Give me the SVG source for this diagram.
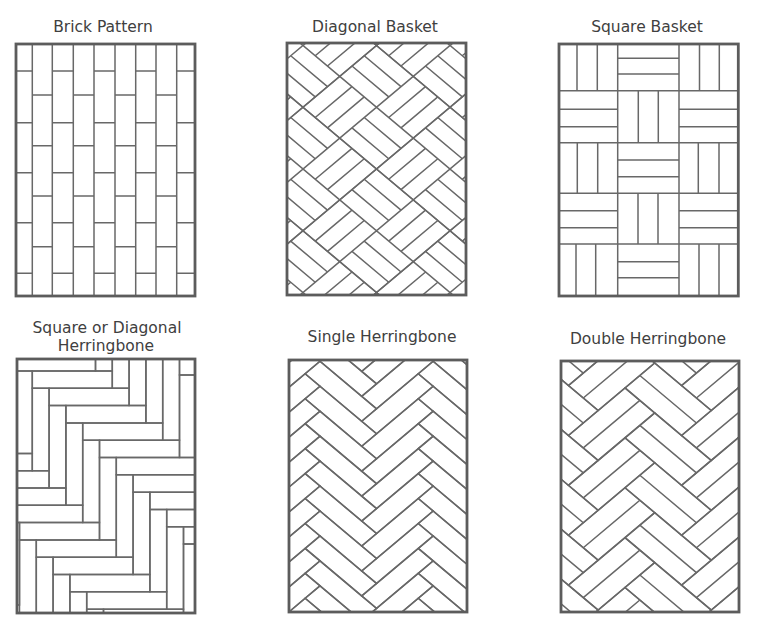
<svg xmlns="http://www.w3.org/2000/svg" xmlns:xlink="http://www.w3.org/1999/xlink" width="757" height="633" viewBox="0 0 757 633">
<style>
.t{fill:none;stroke:#686868;stroke-width:1.5;vector-effect:non-scaling-stroke}
.b{fill:none;stroke:#5c5c5c;stroke-width:2.8}
.ttl{font-family:"DejaVu Sans",Verdana,sans-serif;font-size:15.5px;fill:#404040;text-anchor:middle}
</style>
<defs>
<clipPath id="c2"><rect x="287" y="43" width="179" height="252"/></clipPath>
<clipPath id="c4"><rect x="17" y="359" width="178" height="254"/></clipPath>
<clipPath id="c5"><rect x="289" y="360" width="178" height="252"/></clipPath>
<clipPath id="c6"><rect x="561" y="361" width="178" height="251"/></clipPath>
<g id="bk">
<rect class="t" width="104" height="104"/>
<path class="t" d="M52 0V104M0 52H104M0 17.33H52M0 34.67H52M69.33 0V52M86.67 0V52M17.33 52V104M34.67 52V104M52 69.33H104M52 86.67H104"/>
</g>
<g id="bkrow">
<use xlink:href="#bk" x="-208"/><use xlink:href="#bk" x="-104"/><use xlink:href="#bk" x="0"/><use xlink:href="#bk" x="104"/>
</g>
<g id="hp">
<rect class="t" width="80" height="16.8"/>
<rect class="t" y="16.8" width="16.8" height="80"/>
</g>
<g id="hband">
<use xlink:href="#hp" x="-100.8" y="-100.8"/><use xlink:href="#hp" x="-84" y="-84"/><use xlink:href="#hp" x="-67.2" y="-67.2"/><use xlink:href="#hp" x="-50.4" y="-50.4"/><use xlink:href="#hp" x="-33.6" y="-33.6"/><use xlink:href="#hp" x="-16.8" y="-16.8"/><use xlink:href="#hp" x="0" y="0"/><use xlink:href="#hp" x="16.8" y="16.8"/><use xlink:href="#hp" x="33.6" y="33.6"/><use xlink:href="#hp" x="50.4" y="50.4"/><use xlink:href="#hp" x="67.2" y="67.2"/><use xlink:href="#hp" x="84" y="84"/><use xlink:href="#hp" x="100.8" y="100.8"/><use xlink:href="#hp" x="117.6" y="117.6"/><use xlink:href="#hp" x="134.4" y="134.4"/><use xlink:href="#hp" x="151.2" y="151.2"/><use xlink:href="#hp" x="168" y="168"/><use xlink:href="#hp" x="184.8" y="184.8"/><use xlink:href="#hp" x="201.6" y="201.6"/><use xlink:href="#hp" x="218.4" y="218.4"/><use xlink:href="#hp" x="235.2" y="235.2"/>
</g>
<g id="sp" transform="rotate(45)">
<rect class="t" width="80" height="21"/>
<rect class="t" y="21" width="21" height="80"/>
</g>
<g id="scol">
<use xlink:href="#sp" y="-89.09"/><use xlink:href="#sp" y="-59.4"/><use xlink:href="#sp" y="-29.7"/><use xlink:href="#sp" y="0"/><use xlink:href="#sp" y="29.7"/><use xlink:href="#sp" y="59.4"/><use xlink:href="#sp" y="89.09"/><use xlink:href="#sp" y="118.79"/><use xlink:href="#sp" y="148.49"/><use xlink:href="#sp" y="178.19"/><use xlink:href="#sp" y="207.89"/><use xlink:href="#sp" y="237.59"/><use xlink:href="#sp" y="267.29"/><use xlink:href="#sp" y="296.98"/>
</g>
<g id="dp" transform="rotate(45)">
<rect class="t" width="80" height="42"/>
<path class="t" d="M0 21H80M21 42V122"/>
<rect class="t" y="42" width="42" height="80"/>
</g>
<g id="dcol">
<use xlink:href="#dp" y="-118.79"/><use xlink:href="#dp" y="-59.4"/><use xlink:href="#dp" y="0"/><use xlink:href="#dp" y="59.4"/><use xlink:href="#dp" y="118.79"/><use xlink:href="#dp" y="178.19"/><use xlink:href="#dp" y="237.59"/><use xlink:href="#dp" y="296.98"/>
</g>
</defs>
<rect width="757" height="633" fill="#ffffff"/>

<g id="titles">
<text class="ttl" x="103" y="32">Brick Pattern</text>
<text class="ttl" x="375" y="32">Diagonal Basket</text>
<text class="ttl" x="647" y="32">Square Basket</text>
<text class="ttl" x="107" y="333">Square or Diagonal</text>
<text class="ttl" x="106" y="351">Herringbone</text>
<text class="ttl" x="382" y="342">Single Herringbone</text>
<text class="ttl" x="648" y="344">Double Herringbone</text>
</g>

<g id="brick-pattern">
<path class="t" d="M32.3 44V296M52.3 44V296M73.3 44V296M94 44V296M115 44V296M135.7 44V296M156 44V296M176.7 44V296"/>
<path class="t" d="M16 71H32.3M52.3 71H73.3M94 71H115M135.7 71H156M176.7 71H195M16 122.7H32.3M52.3 122.7H73.3M94 122.7H115M135.7 122.7H156M176.7 122.7H195M16 172.7H32.3M52.3 172.7H73.3M94 172.7H115M135.7 172.7H156M176.7 172.7H195M16 222.7H32.3M52.3 222.7H73.3M94 222.7H115M135.7 222.7H156M176.7 222.7H195M16 273.3H32.3M52.3 273.3H73.3M94 273.3H115M135.7 273.3H156M176.7 273.3H195"/>
<path class="t" d="M32.3 95H52.3M73.3 95H94M115 95H135.7M156 95H176.7M32.3 145.7H52.3M73.3 145.7H94M115 145.7H135.7M156 145.7H176.7M32.3 196H52.3M73.3 196H94M115 196H135.7M156 196H176.7M32.3 246.7H52.3M73.3 246.7H94M115 246.7H135.7M156 246.7H176.7"/>
<rect class="b" x="16" y="44" width="179" height="252"/>
</g>

<g id="diagonal-basket">
<g clip-path="url(#c2)">
<g transform="translate(376.5,169) scale(1,0.84) rotate(45)">
<use xlink:href="#bkrow" y="-208"/><use xlink:href="#bkrow" y="-104"/><use xlink:href="#bkrow" y="0"/><use xlink:href="#bkrow" y="104"/>
</g>
</g>
<rect class="b" x="287" y="43" width="179" height="252"/>
</g>

<g id="square-basket">
<path class="t" d="M617.7 44V296M679 44V296M559 90.7H738.3M559 142.7H738.3M559 193.3H738.3M559 244H738.3"/>
<path class="t" d="M577 44V90.7M597.3 44V90.7M699.5 44V90.7M719.3 44V90.7M638.3 90.7V142.7M658.3 90.7V142.7M577.3 142.7V193.3M597.7 142.7V193.3M698.3 142.7V193.3M719 142.7V193.3M638 193.3V244M658 193.3V244M576 244V296M595.7 244V296M699 244V296M719 244V296"/>
<path class="t" d="M617.7 58.3H679M617.7 74H679M559 109.3H617.7M559 126.7H617.7M679 109.3H738.3M679 126.7H738.3M617.7 160H679M617.7 176.7H679M559 210.7H617.7M559 227.7H617.7M679 210.7H738.3M679 227.7H738.3M617.7 261.7H679M617.7 277.7H679"/>
<rect class="b" x="559" y="44" width="179.3" height="252"/>
</g>

<g id="square-herringbone">
<g clip-path="url(#c4)">
<g transform="translate(32.3,371) scale(1,1.03)">
<use xlink:href="#hband" x="-80" y="80"/>
<use xlink:href="#hband"/>
<use xlink:href="#hband" x="80" y="-80"/>
</g>
</g>
<rect class="b" x="17" y="359" width="178" height="254"/>
</g>

<g id="single-herringbone">
<g clip-path="url(#c5)">
<g transform="translate(320,361.3) scale(1,0.84)">
<use xlink:href="#scol" x="-113.14"/>
<use xlink:href="#scol"/>
<use xlink:href="#scol" x="113.14"/>
</g>
</g>
<rect class="b" x="289" y="360" width="178" height="252"/>
</g>

<g id="double-herringbone">
<g clip-path="url(#c6)">
<g transform="translate(654.7,363) scale(1,0.84)">
<use xlink:href="#dcol" x="-113.14"/>
<use xlink:href="#dcol"/>
<use xlink:href="#dcol" x="113.14"/>
</g>
</g>
<rect class="b" x="561" y="361" width="178" height="251"/>
</g>
</svg>
